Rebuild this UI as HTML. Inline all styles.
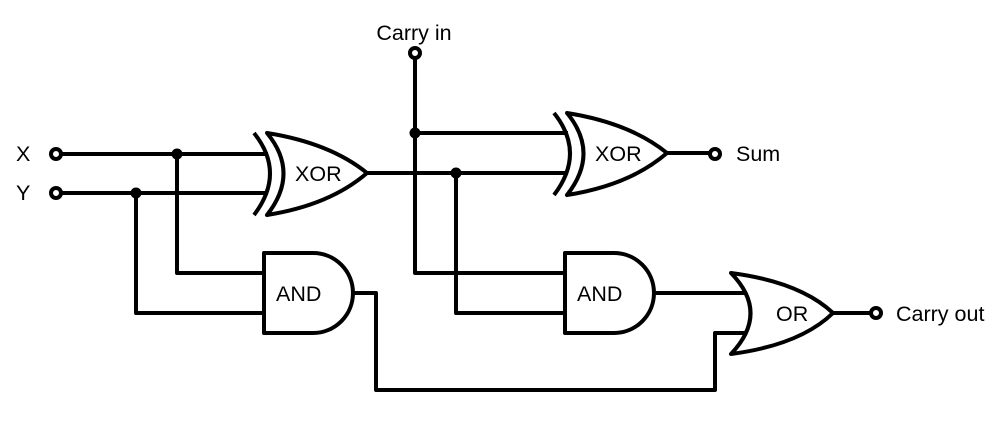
<!DOCTYPE html>
<html><head><style>html,body{margin:0;padding:0;background:#fff}svg{display:block}</style></head>
<body>
<svg width="1008" height="430" viewBox="0 0 1008 430" xmlns="http://www.w3.org/2000/svg">
<g fill="none" stroke="#000" stroke-width="4" stroke-linejoin="round">
<path d="M61 154H268M61 193H268"/>
<path d="M177 154V273H264M136 193V313H264"/>
<path d="M415 58V273H565M415 133H568M367 173H568M456 173V313H565"/>
<path d="M667 153H710"/>
<path d="M353 293H376V390H715V333H747"/>
<path d="M655 293H745"/>
<path d="M833 313H871"/>
<path d="M254 133Q286 173 254 215"/>
<path d="M267 133Q300 173 267 215Q330 205 367 173Q330 143 267 133Z" fill="#fff"/>
<path d="M554 113Q586 153 554 195"/>
<path d="M567 113Q600 153 567 195Q630 185 667 153Q630 123 567 113Z" fill="#fff"/>
<path d="M264 253H313A40 40 0 0 1 313 333H264Z" fill="#fff"/>
<path d="M565 253H614A40 40 0 0 1 614 333H565Z" fill="#fff"/>
<path d="M731 273Q770 313 731 354Q800 345 833 313Q800 282 731 273Z" fill="#fff"/>
<circle cx="56" cy="154" r="5" fill="#fff"/>
<circle cx="56" cy="193" r="5" fill="#fff"/>
<circle cx="415" cy="53" r="5" fill="#fff"/>
<circle cx="715" cy="154" r="5" fill="#fff"/>
<circle cx="876" cy="313" r="5" fill="#fff"/>
</g>
<g fill="#000">
<circle cx="177" cy="154" r="5.5"/><circle cx="136" cy="193" r="5.5"/>
<circle cx="415" cy="133" r="5.5"/><circle cx="456" cy="173" r="5.5"/>
</g>
<g font-family="Liberation Sans, Arial, sans-serif" font-size="21.5" fill="#000">
<text x="16" y="161">X</text>
<text x="16" y="200">Y</text>
<text x="414" y="40" text-anchor="middle">Carry in</text>
<text x="295" y="181">XOR</text>
<text x="595" y="161">XOR</text>
<text x="276" y="301">AND</text>
<text x="577" y="301">AND</text>
<text x="776" y="321">OR</text>
<text x="736" y="161">Sum</text>
<text x="896" y="321">Carry out</text>
</g>
</svg>
</body></html>
